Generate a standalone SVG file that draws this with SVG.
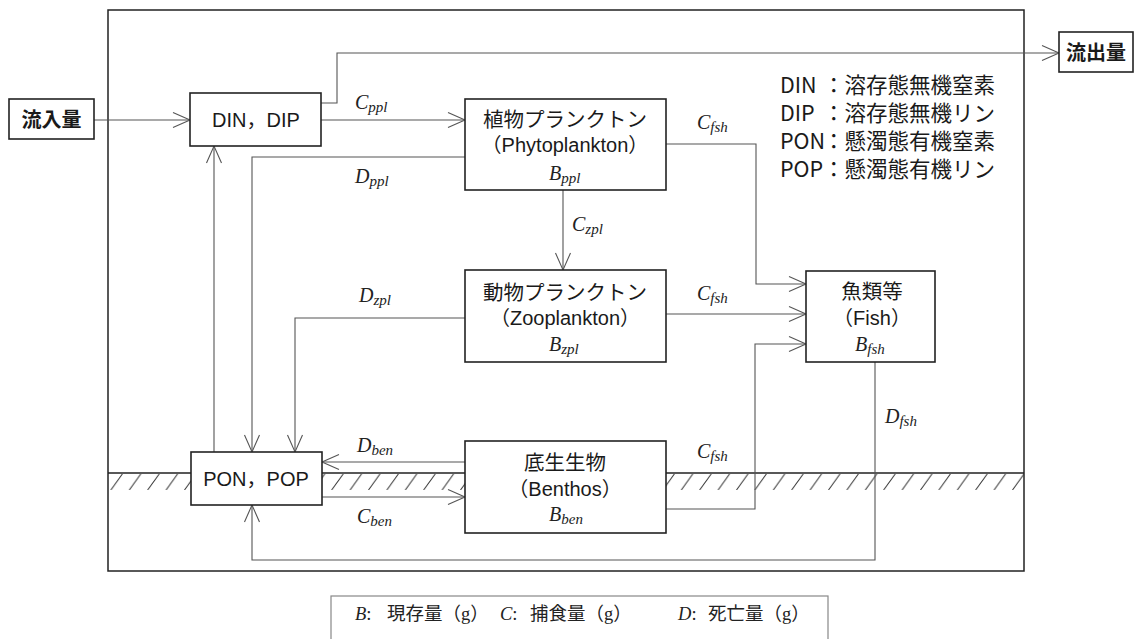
<svg xmlns="http://www.w3.org/2000/svg" width="1143" height="639" viewBox="0 0 1143 639">
<style>
.box{fill:#fff;stroke:#222;stroke-width:1.6}
.frame{fill:none;stroke:#222;stroke-width:1.5}
.con{fill:none;stroke:#555;stroke-width:1.1}
.gnd{fill:none;stroke:#222;stroke-width:1.5}
.jp{font-family:"Liberation Sans","Noto Sans CJK JP",sans-serif;fill:#1a1a1a;text-anchor:middle}
.b{font-weight:bold}
.lbl{font-family:"Liberation Serif",serif;font-style:italic;font-size:20px;fill:#222}
.sub{font-size:15px}
.legr{font-family:"Noto Sans CJK JP",sans-serif;font-size:21.5px;fill:#1a1a1a}
.legb{font-family:"Liberation Serif","Noto Sans CJK JP",serif;font-size:18.5px;fill:#222}
</style>
<defs>
<marker id="arr" markerUnits="userSpaceOnUse" markerWidth="20" markerHeight="20" refX="0" refY="0" viewBox="-18 -10 20 20" orient="auto" overflow="visible">
<path d="M-17,-7.5 L0,0 L-17,7.5" fill="none" stroke="#555" stroke-width="1.1"/>
</marker>
<pattern id="hatch" patternUnits="userSpaceOnUse" x="0" y="474" width="18.4" height="16">
<line x1="0.5" y1="16" x2="12" y2="0" stroke="#333" stroke-width="1"/>
</pattern>
</defs>
<rect width="1143" height="639" fill="#fff"/>

<g id="frame">
<rect class="frame" x="108" y="10" width="916" height="561"/>
</g>

<g id="ground">
<rect x="108" y="474" width="83" height="16" fill="url(#hatch)"/>
<rect x="322" y="474" width="143" height="16" fill="url(#hatch)"/>
<rect x="666" y="474" width="358" height="16" fill="url(#hatch)"/>
<path class="gnd" d="M108,473H191 M322,473H465 M666,473H1024"/>
</g>

<g id="connectors">
<path class="con" d="M94,120H190" marker-end="url(#arr)"/>
<path class="con" d="M321,103H337V53H1059" marker-end="url(#arr)"/>
<path class="con" d="M321,120H465" marker-end="url(#arr)"/>
<path class="con" d="M465,157H252V452" marker-end="url(#arr)"/>
<path class="con" d="M214,452V146" marker-end="url(#arr)"/>
<path class="con" d="M563,190V270" marker-end="url(#arr)"/>
<path class="con" d="M465,318H295V452" marker-end="url(#arr)"/>
<path class="con" d="M666,144H756V284H806" marker-end="url(#arr)"/>
<path class="con" d="M666,314H806" marker-end="url(#arr)"/>
<path class="con" d="M666,509H755V344H806" marker-end="url(#arr)"/>
<path class="con" d="M875,362V560H252V505" marker-end="url(#arr)"/>
<path class="con" d="M465,462H322" marker-end="url(#arr)"/>
<path class="con" d="M322,497H465" marker-end="url(#arr)"/>
<text class="lbl" x="355" y="109">C<tspan class="sub" dy="3">ppl</tspan></text>
<text class="lbl" x="355" y="183">D<tspan class="sub" dy="3">ppl</tspan></text>
<text class="lbl" x="697" y="129">C<tspan class="sub" dy="3">fsh</tspan></text>
<text class="lbl" x="572" y="231">C<tspan class="sub" dy="3">zpl</tspan></text>
<text class="lbl" x="359" y="302">D<tspan class="sub" dy="3">zpl</tspan></text>
<text class="lbl" x="697" y="300">C<tspan class="sub" dy="3">fsh</tspan></text>
<text class="lbl" x="697" y="458">C<tspan class="sub" dy="3">fsh</tspan></text>
<text class="lbl" x="885" y="423">D<tspan class="sub" dy="3">fsh</tspan></text>
<text class="lbl" x="357" y="452">D<tspan class="sub" dy="3">ben</tspan></text>
<text class="lbl" x="357" y="523">C<tspan class="sub" dy="3">ben</tspan></text>
</g>

<g id="inflow">
<rect class="box" x="9" y="99" width="85" height="40"/>
<text class="jp b" x="51.5" y="127" font-size="20">流入量</text>
</g>

<g id="outflow">
<rect class="box" x="1059" y="32" width="74" height="40"/>
<text class="jp b" x="1096" y="60" font-size="20">流出量</text>
</g>

<g id="din-dip">
<rect class="box" x="190" y="93" width="131" height="53"/>
<text class="jp" x="256" y="127" font-size="20">DIN，DIP</text>
</g>

<g id="pon-pop">
<rect class="box" x="191" y="452" width="131" height="53"/>
<text class="jp" x="256" y="486" font-size="20">PON，POP</text>
</g>

<g id="phytoplankton">
<rect class="box" x="465" y="99" width="201" height="91"/>
<text class="jp" x="565" y="127" font-size="20.5">植物プランクトン</text>
<text class="jp" x="565" y="152" font-size="20">（Phytoplankton）</text>
<text class="lbl" x="549" y="180">B<tspan class="sub" dy="3">ppl</tspan></text>
</g>

<g id="zooplankton">
<rect class="box" x="465" y="270" width="201" height="92"/>
<text class="jp" x="565" y="300" font-size="20.5">動物プランクトン</text>
<text class="jp" x="565" y="325" font-size="20">（Zooplankton）</text>
<text class="lbl" x="549" y="351">B<tspan class="sub" dy="3">zpl</tspan></text>
</g>

<g id="fish">
<rect class="box" x="806" y="271" width="129" height="91"/>
<text class="jp" x="872" y="299" font-size="20.5">魚類等</text>
<text class="jp" x="872" y="325" font-size="20">（Fish）</text>
<text class="lbl" x="855" y="351">B<tspan class="sub" dy="3">fsh</tspan></text>
</g>

<g id="benthos">
<rect class="box" x="465" y="441" width="201" height="92"/>
<text class="jp" x="565" y="470" font-size="20.5">底生生物</text>
<text class="jp" x="565" y="496" font-size="20">（Benthos）</text>
<text class="lbl" x="549" y="521">B<tspan class="sub" dy="3">ben</tspan></text>
</g>

<g id="abbrev-legend">
<text class="legr" x="780" y="93">DIN<tspan x="823">：溶存態無機窒素</tspan></text>
<text class="legr" x="780" y="121">DIP<tspan x="823">：溶存態無機リン</tspan></text>
<text class="legr" x="780" y="149">PON<tspan x="823">：懸濁態有機窒素</tspan></text>
<text class="legr" x="780" y="177">POP<tspan x="823">：懸濁態有機リン</tspan></text>
</g>

<g id="symbol-legend">
<rect x="331" y="596" width="497" height="50" fill="#fff" stroke="#888" stroke-width="1.2"/>
<text class="legb" x="355" y="620"><tspan font-style="italic">B</tspan>: <tspan x="387">現存量（g）</tspan></text>
<text class="legb" x="500" y="620"><tspan font-style="italic">C</tspan>: <tspan x="530">捕食量（g）</tspan></text>
<text class="legb" x="678" y="620"><tspan font-style="italic">D</tspan>: <tspan x="708">死亡量（g）</tspan></text>
</g>
</svg>
